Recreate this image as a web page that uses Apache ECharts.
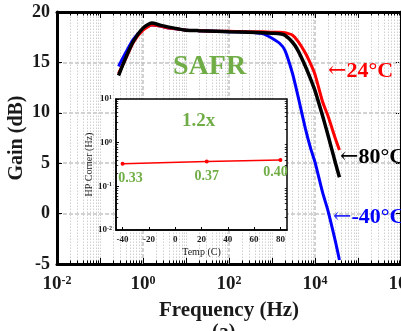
<!DOCTYPE html>
<html>
<head>
<meta charset="utf-8">
<script src="https://cdn.jsdelivr.net/npm/echarts@6/dist/echarts.min.js"></script>
<style>
  html, body { margin: 0; padding: 0; background: #fff; }
  #chart { width: 401px; height: 331px; }
</style>
</head>
<body>
<div id="chart"></div>
<script>
// main plot: gain vs frequency, three temperatures
const freqHz = [0.27, 0.4, 0.6, 1, 1.6, 2.5, 4, 7, 10, 20, 50, 100, 300, 600, 1000, 1500, 2000, 3000, 4000, 6000, 8000, 10000, 15000, 20000, 30000, 37000]
const gainM40 = [14.6, 16.0, 17.3, 18.3, 18.7, 18.6, 18.4, 18.3, 18.2, 18.15, 18.1, 18.05, 18.0, 17.85, 17.4, 16.9, 16.2, 13.9, 11.7, 8.4, 6.4, 5.1, 2.1, 0.3, -2.8, -4.6]
const gain24 = [13.9, 15.4, 17.0, 18.2, 18.7, 18.6, 18.4, 18.3, 18.2, 18.15, 18.1, 18.1, 18.05, 18.05, 18.0, 18.0, 17.95, 17.7, 17.1, 15.9, 14.8, 13.8, 11.1, 9.7, 7.4, 6.3]
const gain80 = [13.7, 15.5, 17.1, 18.4, 18.9, 18.7, 18.5, 18.3, 18.2, 18.15, 18.1, 18.05, 18.0, 17.95, 17.9, 17.85, 17.7, 17.0, 16.2, 14.6, 13.3, 12.2, 9.7, 7.8, 5.0, 3.6]

// inset: HP corner vs temperature
const tempC = [-40, 24, 80]
const hpCorner = [0.33, 0.37, 0.40]
const tempTicks = [-40, -20, 0, 20, 40, 60, 80]

const serif = '"Liberation Serif", "Times New Roman", serif'
const ink = '#1a1a1a'

const pairs = (xs, ys) => xs.map((x, i) => [x, ys[i]])
const expOf = v => Math.round(Math.log10(v))
const powLabel = v => '{b|10}{s|' + expOf(v) + '}'
const evenPowLabel = v => (expOf(v) % 2 === 0 ? powLabel(v) : '')
const powRich = (big, small) => ({
  b: { fontFamily: serif, fontWeight: 'bold', fontSize: big, color: ink },
  s: { fontFamily: serif, fontWeight: 'bold', fontSize: small, color: ink, verticalAlign: 'top' }
})

// grid lines + ticks for the log frequency axis
const majorGrid = []
const minorGrid = []
const freqTicks = []
for (let e = -2; e < 6; e++) {
  for (let k = 1; k < 10; k++) {
    const v = k * Math.pow(10, e)
    if (k === 1 && e % 2 === 0) { if (e > -2) majorGrid.push({ xAxis: v }) }
    else minorGrid.push({ xAxis: v })
    const len = k === 1 ? 0.6 : 0.35
    freqTicks.push([{ coord: [v, -5] }, { coord: [v, -5 + len] }])
    freqTicks.push([{ coord: [v, 20] }, { coord: [v, 20 - len] }])
  }
}
// minor ticks on inset log axis
const insetTicks = []
for (let e = -2; e < 1; e++) {
  for (let k = 2; k < 10; k++) {
    const v = k * Math.pow(10, e)
    insetTicks.push([{ coord: [-45, v] }, { coord: [-43.3, v] }])
    insetTicks.push([{ coord: [85, v] }, { coord: [83.3, v] }])
  }
}

const chart = echarts.init(document.getElementById('chart'))

const option = {
  animation: false,
  grid: [
    { left: 57, top: 12, width: 344, height: 252, outerBoundsMode: 'none', containLabel: false },
    { left: 116, top: 99, width: 171, height: 131, outerBoundsMode: 'none', containLabel: false,
      show: true, backgroundColor: '#fff', borderColor: '#000', borderWidth: 1.5, z: 10 }
  ],
  xAxis: [
    {
      type: 'log', gridIndex: 0, min: 0.01, max: 1e6,
      name: 'Frequency (Hz)', nameLocation: 'middle', nameGap: 36,
      nameTextStyle: { fontFamily: serif, fontWeight: 'bold', fontSize: 21, color: ink },
      axisLine: { onZero: false, lineStyle: { color: '#000', width: 3 } },
      axisTick: { show: false },
      axisLabel: { margin: 11, formatter: evenPowLabel, rich: powRich(19, 12) },
      splitLine: { show: false }
    },
    {
      type: 'log', gridIndex: 0, min: 0.01, max: 1e6, position: 'top',
      axisLine: { onZero: false, lineStyle: { color: '#000', width: 3 } },
      axisTick: { show: false }, axisLabel: { show: false }, splitLine: { show: false }
    },
    {
      type: 'value', gridIndex: 1, min: -45, max: 85, z: 11,
      name: 'Temp (C)', nameLocation: 'middle', nameGap: 17,
      nameTextStyle: { fontFamily: serif, fontSize: 10, color: ink },
      axisLine: { onZero: false, lineStyle: { color: '#000', width: 1.5 } },
      axisTick: { inside: true, length: 3, customValues: tempTicks, lineStyle: { color: '#000' } },
      axisLabel: { margin: 5, customValues: tempTicks, fontFamily: serif, fontWeight: 'bold', fontSize: 9, color: ink },
      splitLine: { show: false }
    }
  ],
  yAxis: [
    {
      type: 'value', gridIndex: 0, min: -5, max: 20, interval: 5,
      name: 'Gain (dB)', nameLocation: 'middle', nameGap: 30, nameMoveOverlap: false,
      nameTextStyle: { fontFamily: serif, fontWeight: 'bold', fontSize: 20, color: ink },
      axisLine: { show: true, onZero: false, lineStyle: { color: '#000', width: 3 } },
      axisTick: { show: true, inside: true, length: 5, lineStyle: { color: '#000' } },
      axisLabel: { margin: 7, fontFamily: serif, fontWeight: 'bold', fontSize: 18, color: ink },
      splitLine: { show: true, lineStyle: { color: '#c4c4c4', width: 1.5, type: [4, 2] } }
    },
    {
      type: 'value', gridIndex: 0, min: -5, max: 20, interval: 5, position: 'right',
      axisLine: { show: true, onZero: false, lineStyle: { color: '#000', width: 3 } },
      axisTick: { show: true, inside: true, length: 5, lineStyle: { color: '#000' } },
      axisLabel: { show: false }, splitLine: { show: false }
    },
    {
      type: 'log', gridIndex: 1, min: 0.01, max: 10, z: 11,
      name: 'HP Corner (Hz)', nameLocation: 'middle', nameGap: 21,
      nameTextStyle: { fontFamily: serif, fontSize: 10, color: ink },
      axisLine: { show: true, onZero: false, lineStyle: { color: '#000', width: 1.5 } },
      axisTick: { inside: true, length: 3, lineStyle: { color: '#000' } },
      axisLabel: { margin: 4, formatter: powLabel, rich: powRich(9, 6) },
      splitLine: { show: false }
    }
  ],
  series: [
    {
      name: 'grid', type: 'line', xAxisIndex: 0, yAxisIndex: 0, data: [], z: 1, silent: true,
      markLine: {
        silent: true, symbol: 'none', label: { show: false }, animation: false, z: 1,
        lineStyle: { color: '#d0d0d0', width: 1, type: [1.5, 1.5] },
        data: minorGrid
      }
    },
    {
      name: 'majorGrid', type: 'line', xAxisIndex: 0, yAxisIndex: 0, data: [], z: 1, silent: true,
      markLine: {
        silent: true, symbol: 'none', label: { show: false }, animation: false, z: 1,
        lineStyle: { color: '#c4c4c4', width: 1.5, type: [4, 2] },
        data: majorGrid
      }
    },
    {
      name: 'ticks', type: 'line', xAxisIndex: 0, yAxisIndex: 0, data: [], z: 3, silent: true,
      markLine: {
        silent: true, symbol: 'none', label: { show: false }, animation: false, z: 3,
        lineStyle: { color: '#000', width: 1, type: 'solid' },
        data: freqTicks
      }
    },
    {
      name: '-40°C', type: 'line', xAxisIndex: 0, yAxisIndex: 0, data: pairs(freqHz, gainM40),
      showSymbol: false, smooth: 0.2, lineStyle: { color: '#0000ff', width: 3 }, z: 2
    },
    {
      name: '24°C', type: 'line', xAxisIndex: 0, yAxisIndex: 0, data: pairs(freqHz, gain24),
      showSymbol: false, smooth: 0.2, lineStyle: { color: '#ff0000', width: 3 }, z: 3
    },
    {
      name: '80°C', type: 'line', xAxisIndex: 0, yAxisIndex: 0, data: pairs(freqHz, gain80),
      showSymbol: false, smooth: 0.2, lineStyle: { color: '#000', width: 3.5 }, z: 4
    },
    {
      name: 'HP corner', type: 'line', xAxisIndex: 2, yAxisIndex: 2, data: pairs(tempC, hpCorner),
      symbol: 'circle', symbolSize: 4, itemStyle: { color: '#ff0000' },
      lineStyle: { color: '#ff0000', width: 1.5 }, z: 12,
      label: {
        show: true, position: 'bottom', distance: 6,
        formatter: p => p.value[1].toFixed(2),
        fontFamily: serif, fontWeight: 'bold', fontSize: 14, color: '#70ad47'
      },
      labelLayout: p => p.dataIndex === 0 ? { dx: 8 } : (p.dataIndex === 2 ? { dx: -5, dy: -3 } : {}),
      markLine: {
        silent: true, symbol: 'none', label: { show: false }, animation: false, z: 12,
        lineStyle: { color: '#000', width: 0.8, type: 'solid' },
        data: insetTicks
      }
    }
  ],
  graphic: [
    { type: 'text', left: 173, top: 53, z: 20, style: { text: 'SAFR', font: 'bold 28px "Liberation Serif"', fill: '#70ad47' } },
    { type: 'text', left: 182, top: 112, z: 20, style: { text: '1.2x', font: 'bold 19px "Liberation Serif"', fill: '#70ad47' } },
    {
      type: 'text', left: 328, top: 60, z: 20,
      style: { text: '{a|←}{t|24°C}', fill: '#ff0000', rich: { a: { font: '22px "DejaVu Serif"', fill: '#ff0000' }, t: { font: 'bold 22px "Liberation Serif"', fill: '#ff0000' } } }
    },
    {
      type: 'text', left: 340, top: 146, z: 20,
      style: { text: '{a|←}{t|80°C}', fill: '#000', rich: { a: { font: '22px "DejaVu Serif"', fill: '#000' }, t: { font: 'bold 22px "Liberation Serif"', fill: '#000' } } }
    },
    {
      type: 'text', left: 333, top: 206, z: 20,
      style: { text: '{a|←}{t|-40°C}', fill: '#0000ff', rich: { a: { font: '22px "DejaVu Serif"', fill: '#2a2aff' }, t: { font: 'bold 22px "Liberation Serif"', fill: '#0000ff' } } }
    },
    { type: 'text', left: 212, top: 323, z: 20, style: { text: '(a)', font: 'bold 20px "Liberation Serif"', fill: ink } }
  ]
}

chart.setOption(option)
</script>
</body>
</html>
